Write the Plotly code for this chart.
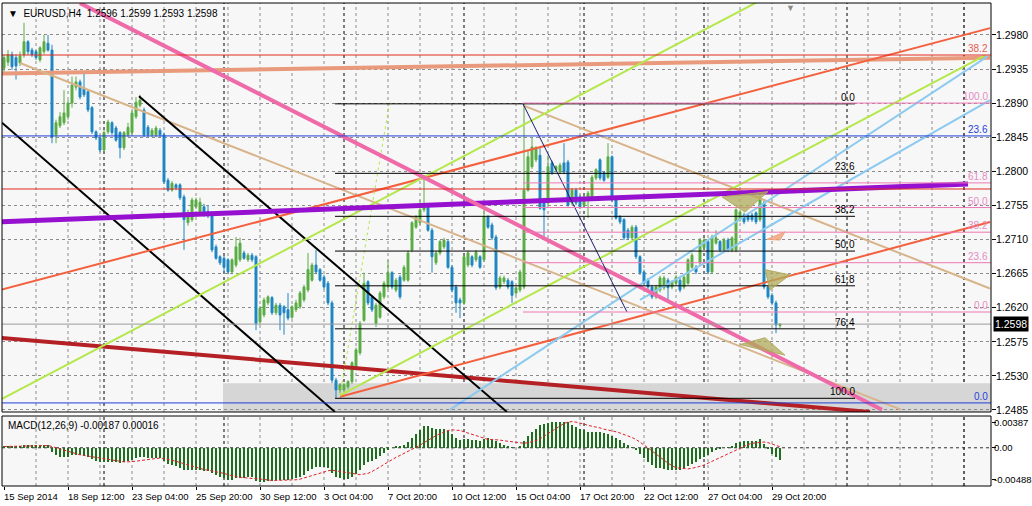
import plotly.graph_objects as go

# ---------------- data (EURUSD H4) ----------------
opens = [
    1.2936, 1.2944, 1.2954, 1.2950, 1.2943, 1.2954, 1.2971, 1.2960, 1.2958, 1.2947,
    1.2958, 1.2969, 1.2960, 1.2848, 1.2860, 1.2864, 1.2872, 1.2890, 1.2911, 1.2918,
    1.2910, 1.2905, 1.2884, 1.2852, 1.2844, 1.2828, 1.2852, 1.2864, 1.2857, 1.2851,
    1.2831, 1.2848, 1.2851, 1.2872, 1.2887, 1.2881, 1.2858, 1.2848, 1.2848, 1.2854,
    1.2848, 1.2788, 1.2775, 1.2782, 1.2782, 1.2766, 1.2732, 1.2736, 1.2753, 1.2746,
    1.2753, 1.2747, 1.2745, 1.2700, 1.2687, 1.2685, 1.2683, 1.2667, 1.2676, 1.2683,
    1.2692, 1.2683, 1.2689, 1.2687, 1.2601, 1.2610, 1.2626, 1.2633, 1.2613, 1.2623,
    1.2621, 1.2617, 1.2607, 1.2617, 1.2621, 1.2630, 1.2643, 1.2656, 1.2676, 1.2670,
    1.2660, 1.2652, 1.2626, 1.2524, 1.2511, 1.2511, 1.2515, 1.2522, 1.2540, 1.2560,
    1.2603, 1.2654, 1.2634, 1.2599, 1.2607, 1.2634, 1.2647, 1.2666, 1.2643, 1.2660,
    1.2656, 1.2656, 1.2696, 1.2726, 1.2732, 1.2749, 1.2755, 1.2722, 1.2679, 1.2692,
    1.2700, 1.2707, 1.2673, 1.2647, 1.2630, 1.2626, 1.2676, 1.2687, 1.2683, 1.2687,
    1.2683, 1.2740, 1.2729, 1.2713, 1.2647, 1.2654, 1.2656, 1.2654, 1.2639, 1.2643,
    1.2647, 1.2775, 1.2806, 1.2815, 1.2821, 1.2762, 1.2758, 1.2811, 1.2802, 1.2799,
    1.2811, 1.2812, 1.2758, 1.2775, 1.2766, 1.2755, 1.2762, 1.2766, 1.2791, 1.2815,
    1.2798, 1.2792, 1.2819, 1.2762, 1.2740, 1.2736, 1.2722, 1.2712, 1.2726, 1.2687,
    1.2667, 1.2656, 1.2647, 1.2634, 1.2643, 1.2646, 1.2656, 1.2647, 1.2652, 1.2656,
    1.2647, 1.2652, 1.2673, 1.2673, 1.2679, 1.2699, 1.2707, 1.2667, 1.2705, 1.2707,
    1.2696, 1.2709, 1.2696, 1.2696, 1.2736, 1.2742, 1.2742, 1.2742, 1.2745, 1.2736,
    1.2758, 1.2647, 1.2636, 1.2626, 1.2596]
highs = [
    1.2954, 1.2960, 1.2958, 1.2954, 1.2958, 1.2996, 1.2973, 1.2963, 1.2960, 1.2965,
    1.2980, 1.2980, 1.2967, 1.2868, 1.2878, 1.2907, 1.2894, 1.2925, 1.2925, 1.2921,
    1.2930, 1.2907, 1.2886, 1.2854, 1.2847, 1.2854, 1.2868, 1.2866, 1.2860, 1.2853,
    1.2853, 1.2864, 1.2880, 1.2898, 1.2901, 1.2884, 1.2861, 1.2857, 1.2860, 1.2857,
    1.2851, 1.2791, 1.2787, 1.2784, 1.2784, 1.2769, 1.2749, 1.2765, 1.2765, 1.2765,
    1.2757, 1.2754, 1.2747, 1.2703, 1.2689, 1.2688, 1.2685, 1.2685, 1.2713, 1.2712,
    1.2695, 1.2692, 1.2692, 1.2689, 1.2622, 1.2633, 1.2636, 1.2635, 1.2626, 1.2626,
    1.2623, 1.2639, 1.2623, 1.2630, 1.2642, 1.2650, 1.2692, 1.2679, 1.2696, 1.2672,
    1.2663, 1.2655, 1.2629, 1.2527, 1.2520, 1.2520, 1.2524, 1.2549, 1.2567, 1.2602,
    1.2666, 1.2656, 1.2636, 1.2626, 1.2642, 1.2655, 1.2683, 1.2668, 1.2659, 1.2663,
    1.2676, 1.2695, 1.2734, 1.2742, 1.2762, 1.2795, 1.2758, 1.2725, 1.2695, 1.2709,
    1.2712, 1.2709, 1.2676, 1.2650, 1.2633, 1.2689, 1.2695, 1.2689, 1.2696, 1.2689,
    1.2749, 1.2742, 1.2732, 1.2716, 1.2662, 1.2662, 1.2659, 1.2656, 1.2648, 1.2670,
    1.2889, 1.2828, 1.2844, 1.2833, 1.2831, 1.2765, 1.2821, 1.2814, 1.2808, 1.2811,
    1.2837, 1.2815, 1.2778, 1.2778, 1.2769, 1.2769, 1.2774, 1.2795, 1.2804, 1.2817,
    1.2800, 1.2837, 1.2821, 1.2765, 1.2742, 1.2738, 1.2725, 1.2729, 1.2729, 1.2689,
    1.2670, 1.2659, 1.2650, 1.2650, 1.2662, 1.2662, 1.2659, 1.2656, 1.2663, 1.2659,
    1.2663, 1.2685, 1.2692, 1.2676, 1.2712, 1.2712, 1.2709, 1.2716, 1.2722, 1.2709,
    1.2712, 1.2712, 1.2714, 1.2751, 1.2749, 1.2745, 1.2745, 1.2745, 1.2747, 1.2775,
    1.2761, 1.2650, 1.2639, 1.2629, 1.2599]
lows = [
    1.2931, 1.2939, 1.2934, 1.2921, 1.2939, 1.2950, 1.2954, 1.2951, 1.2947, 1.2944,
    1.2955, 1.2958, 1.2837, 1.2837, 1.2857, 1.2861, 1.2868, 1.2884, 1.2907, 1.2895,
    1.2898, 1.2878, 1.2849, 1.2841, 1.2825, 1.2825, 1.2849, 1.2848, 1.2839, 1.2817,
    1.2828, 1.2845, 1.2848, 1.2869, 1.2884, 1.2845, 1.2845, 1.2845, 1.2845, 1.2845,
    1.2783, 1.2773, 1.2773, 1.2775, 1.2762, 1.2696, 1.2728, 1.2733, 1.2750, 1.2743,
    1.2740, 1.2738, 1.2693, 1.2683, 1.2676, 1.2666, 1.2664, 1.2664, 1.2673, 1.2680,
    1.2683, 1.2680, 1.2680, 1.2590, 1.2598, 1.2607, 1.2623, 1.2610, 1.2610, 1.2590,
    1.2584, 1.2603, 1.2605, 1.2614, 1.2618, 1.2627, 1.2640, 1.2654, 1.2664, 1.2654,
    1.2644, 1.2623, 1.2520, 1.2500, 1.2507, 1.2508, 1.2512, 1.2519, 1.2537, 1.2557,
    1.2601, 1.2623, 1.2614, 1.2594, 1.2605, 1.2631, 1.2644, 1.2644, 1.2640, 1.2631,
    1.2654, 1.2654, 1.2693, 1.2724, 1.2729, 1.2746, 1.2720, 1.2666, 1.2676, 1.2689,
    1.2697, 1.2671, 1.2640, 1.2613, 1.2606, 1.2623, 1.2673, 1.2673, 1.2680, 1.2671,
    1.2680, 1.2724, 1.2709, 1.2643, 1.2644, 1.2651, 1.2644, 1.2626, 1.2636, 1.2640,
    1.2644, 1.2773, 1.2803, 1.2812, 1.2749, 1.2709, 1.2755, 1.2795, 1.2799, 1.2796,
    1.2796, 1.2753, 1.2755, 1.2755, 1.2750, 1.2753, 1.2738, 1.2763, 1.2788, 1.2788,
    1.2786, 1.2790, 1.2759, 1.2736, 1.2730, 1.2709, 1.2709, 1.2709, 1.2684, 1.2663,
    1.2650, 1.2644, 1.2631, 1.2631, 1.2640, 1.2643, 1.2630, 1.2644, 1.2650, 1.2640,
    1.2644, 1.2650, 1.2671, 1.2664, 1.2676, 1.2696, 1.2664, 1.2664, 1.2703, 1.2693,
    1.2693, 1.2693, 1.2693, 1.2693, 1.2733, 1.2730, 1.2733, 1.2733, 1.2730, 1.2733,
    1.2644, 1.2631, 1.2623, 1.2586, 1.2593]
closes = [
    1.2950, 1.2954, 1.2938, 1.2939, 1.2952, 1.2971, 1.2958, 1.2954, 1.2950, 1.2963,
    1.2971, 1.2960, 1.2845, 1.2864, 1.2872, 1.2877, 1.2890, 1.2914, 1.2918, 1.2898,
    1.2901, 1.2881, 1.2852, 1.2844, 1.2828, 1.2851, 1.2865, 1.2851, 1.2841, 1.2831,
    1.2851, 1.2858, 1.2877, 1.2891, 1.2894, 1.2848, 1.2848, 1.2854, 1.2857, 1.2848,
    1.2786, 1.2775, 1.2784, 1.2778, 1.2765, 1.2736, 1.2745, 1.2762, 1.2762, 1.2759,
    1.2742, 1.2741, 1.2696, 1.2685, 1.2679, 1.2673, 1.2667, 1.2683, 1.2700, 1.2705,
    1.2685, 1.2689, 1.2683, 1.2599, 1.2619, 1.2630, 1.2634, 1.2613, 1.2623, 1.2610,
    1.2613, 1.2606, 1.2621, 1.2626, 1.2639, 1.2647, 1.2670, 1.2676, 1.2667, 1.2656,
    1.2647, 1.2626, 1.2524, 1.2511, 1.2518, 1.2518, 1.2522, 1.2547, 1.2564, 1.2599,
    1.2652, 1.2626, 1.2617, 1.2623, 1.2639, 1.2652, 1.2666, 1.2647, 1.2656, 1.2634,
    1.2673, 1.2692, 1.2732, 1.2740, 1.2749, 1.2753, 1.2722, 1.2687, 1.2692, 1.2707,
    1.2709, 1.2673, 1.2643, 1.2626, 1.2626, 1.2687, 1.2692, 1.2676, 1.2693, 1.2673,
    1.2740, 1.2726, 1.2712, 1.2646, 1.2659, 1.2659, 1.2647, 1.2636, 1.2646, 1.2667,
    1.2775, 1.2819, 1.2832, 1.2831, 1.2751, 1.2749, 1.2806, 1.2798, 1.2806, 1.2808,
    1.2799, 1.2755, 1.2775, 1.2758, 1.2753, 1.2766, 1.2771, 1.2792, 1.2802, 1.2791,
    1.2788, 1.2819, 1.2762, 1.2738, 1.2733, 1.2712, 1.2712, 1.2726, 1.2687, 1.2666,
    1.2652, 1.2647, 1.2634, 1.2647, 1.2659, 1.2659, 1.2646, 1.2654, 1.2660, 1.2643,
    1.2660, 1.2683, 1.2689, 1.2667, 1.2709, 1.2709, 1.2667, 1.2713, 1.2712, 1.2696,
    1.2709, 1.2696, 1.2712, 1.2749, 1.2746, 1.2733, 1.2736, 1.2736, 1.2733, 1.2762,
    1.2647, 1.2634, 1.2626, 1.2597, 1.2598]

macd_main = [
    0.00030, 0.00032, 0.00030, 0.00028, 0.00030, 0.00040, 0.00042, 0.00040, 0.00036, 0.00036,
    0.00042, 0.00040, -0.00060, -0.00120, -0.00140, -0.00150, -0.00140, -0.00120, -0.00110, -0.00120,
    -0.00130, -0.00150, -0.00180, -0.00200, -0.00230, -0.00230, -0.00220, -0.00220, -0.00230, -0.00240,
    -0.00230, -0.00210, -0.00190, -0.00160, -0.00140, -0.00150, -0.00160, -0.00160, -0.00160, -0.00160,
    -0.00210, -0.00250, -0.00270, -0.00290, -0.00310, -0.00340, -0.00350, -0.00350, -0.00350, -0.00350,
    -0.00360, -0.00360, -0.00400, -0.00430, -0.00460, -0.00480, -0.00500, -0.00500, -0.00480, -0.00470,
    -0.00470, -0.00460, -0.00460, -0.00520, -0.00530, -0.00530, -0.00520, -0.00520, -0.00510, -0.00510,
    -0.00510, -0.00500, -0.00490, -0.00470, -0.00450, -0.00420, -0.00370, -0.00330, -0.00300, -0.00300,
    -0.00300, -0.00320, -0.00400, -0.00460, -0.00480, -0.00490, -0.00490, -0.00460, -0.00410, -0.00350,
    -0.00270, -0.00230, -0.00200, -0.00170, -0.00130, -0.00080, -0.00030, 0.00000, 0.00020, 0.00030,
    0.00050, 0.00090, 0.00160, 0.00220, 0.00280, 0.00340, 0.00340, 0.00310, 0.00300, 0.00300,
    0.00290, 0.00260, 0.00220, 0.00160, 0.00120, 0.00130, 0.00130, 0.00120, 0.00120, 0.00110,
    0.00140, 0.00150, 0.00140, 0.00100, 0.00070, 0.00050, 0.00030, 0.00010, 0.00000, 0.00020,
    0.00100, 0.00180, 0.00250, 0.00300, 0.00350, 0.00370, 0.00390, 0.00400, 0.00410, 0.00410,
    0.00410, 0.00400, 0.00360, 0.00330, 0.00300, 0.00270, 0.00250, 0.00240, 0.00240, 0.00240,
    0.00230, 0.00220, 0.00190, 0.00150, 0.00120, 0.00080, 0.00040, 0.00010, -0.00040, -0.00100,
    -0.00160, -0.00220, -0.00270, -0.00310, -0.00320, -0.00330, -0.00340, -0.00340, -0.00340, -0.00340,
    -0.00320, -0.00290, -0.00250, -0.00220, -0.00180, -0.00140, -0.00110, -0.00070, -0.00040, -0.00020,
    0.00000, 0.00010, 0.00030, 0.00070, 0.00090, 0.00100, 0.00110, 0.00110, 0.00110, 0.00130,
    0.00060, -0.00020, -0.00090, -0.00140, -0.00187]
macd_signal = [
    0.00020, 0.00021, 0.00022, 0.00023, 0.00024, 0.00026, 0.00028, 0.00030, 0.00031, 0.00032,
    0.00033, 0.00034, 0.00020, 0.00000, -0.00020, -0.00040, -0.00060, -0.00080, -0.00090, -0.00110,
    -0.00120, -0.00130, -0.00140, -0.00150, -0.00160, -0.00180, -0.00190, -0.00200, -0.00210, -0.00220,
    -0.00220, -0.00220, -0.00220, -0.00210, -0.00200, -0.00190, -0.00180, -0.00170, -0.00160, -0.00160,
    -0.00170, -0.00180, -0.00190, -0.00210, -0.00230, -0.00250, -0.00270, -0.00290, -0.00310, -0.00330,
    -0.00340, -0.00350, -0.00360, -0.00370, -0.00390, -0.00400, -0.00420, -0.00440, -0.00450, -0.00460,
    -0.00470, -0.00470, -0.00480, -0.00480, -0.00490, -0.00500, -0.00500, -0.00510, -0.00510, -0.00510,
    -0.00510, -0.00510, -0.00510, -0.00500, -0.00490, -0.00470, -0.00450, -0.00430, -0.00410, -0.00390,
    -0.00370, -0.00360, -0.00350, -0.00360, -0.00370, -0.00380, -0.00400, -0.00410, -0.00420, -0.00420,
    -0.00410, -0.00400, -0.00370, -0.00340, -0.00300, -0.00260, -0.00220, -0.00180, -0.00150, -0.00120,
    -0.00090, -0.00060, -0.00030, 0.00000, 0.00040, 0.00080, 0.00120, 0.00160, 0.00190, 0.00220,
    0.00250, 0.00270, 0.00280, 0.00280, 0.00270, 0.00250, 0.00230, 0.00210, 0.00190, 0.00160,
    0.00140, 0.00130, 0.00130, 0.00130, 0.00120, 0.00110, 0.00100, 0.00090, 0.00080, 0.00070,
    0.00070, 0.00080, 0.00090, 0.00110, 0.00140, 0.00180, 0.00220, 0.00260, 0.00300, 0.00340,
    0.00380, 0.00400, 0.00410, 0.00400, 0.00390, 0.00370, 0.00350, 0.00340, 0.00320, 0.00310,
    0.00290, 0.00280, 0.00260, 0.00250, 0.00230, 0.00210, 0.00190, 0.00160, 0.00130, 0.00090,
    0.00050, 0.00000, -0.00050, -0.00100, -0.00150, -0.00200, -0.00240, -0.00280, -0.00310, -0.00320,
    -0.00330, -0.00330, -0.00320, -0.00310, -0.00290, -0.00270, -0.00240, -0.00210, -0.00180, -0.00150,
    -0.00120, -0.00090, -0.00060, -0.00030, 0.00000, 0.00030, 0.00050, 0.00070, 0.00080, 0.00090,
    0.00090, 0.00080, 0.00060, 0.00040, 0.00016]

time_label_bars = [0, 16, 32, 48, 64, 80, 96, 112, 128, 144, 160, 176, 192]
time_labels = ["15 Sep 2014", "18 Sep 12:00", "23 Sep 04:00", "25 Sep 20:00", "30 Sep 12:00",
               "3 Oct 04:00", "7 Oct 20:00", "10 Oct 12:00", "15 Oct 04:00", "17 Oct 20:00",
               "22 Oct 12:00", "27 Oct 04:00", "29 Oct 20:00"]
price_ticks = [1.2485, 1.2530, 1.2575, 1.2620, 1.2665, 1.2710, 1.2755, 1.2800, 1.2845, 1.2890, 1.2935, 1.2980]
macd_tick_vals = [0.00387, 0.0, -0.00488]
macd_tick_text = ["0.00387", "0.00", "-0.00488"]
week_separator_bars = [25, 55, 85, 115, 145, 175, 210.75, 240]
last_price = 1.2598
title_text = "EURUSD,H4  1.2596 1.2599 1.2593 1.2598"
macd_text = "MACD(12,26,9) -0.00187 0.00016"

# drawn objects: (bar0, price0, bar1, price1)
trend_lines = {
    "salmon": (-1.0, 1.2929, 246.5, 1.2950),
    "tan_1": (4.0, 1.2943, 224.25, 1.2485),
    "tan_2": (129.75, 1.2887, 246.5, 1.2645),
    "darkred": (-1.0, 1.2580, 216.5, 1.2482),
    "black_a": (-0.5, 1.2864, 82.75, 1.2482),
    "black_b": (33.75, 1.2899, 125.75, 1.2482),
    "tomato_1": (-1.0, 1.2643, 246.5, 1.2989),
    "tomato_2": (84.0, 1.2502, 246.5, 1.2733),
    "green_1": (-1.0, 1.2498, 188.5, 1.3024),
    "green_2": (84.0, 1.2504, 245.25, 1.2953),
    "green_dot": (84.0, 1.2504, 96.5, 1.2894),
    "lightblue_1": (111.5, 1.2485, 246.0, 1.2952),
    "lightblue_2": (159.0, 1.2630, 246.5, 1.2894),
    "purple": (-1.0, 1.2733, 241.0, 1.2783),
    "pink": (19.0, 1.3022, 219.5, 1.2485),
    "navy": (129.75, 1.2889, 155.75, 1.2614),
}
full_width_levels = {"red_top": 1.29535, "red_mid": 1.27765, "blue_top": 1.28466, "blue_low": 1.24939}
fib_a_levels = [0.0, 23.6, 38.2, 50.0, 61.8, 76.4, 100.0]
fib_a_zero, fib_a_hundred = 1.2889, 1.2500
fib_a_span = (82.75, 212.75)
fib_b_levels = [0.0, 23.6, 38.2, 50.0, 61.8, 100.0]
fib_b_zero, fib_b_hundred = 1.2614, 1.2890
fib_b_span = (129.75, 246.75)
triangles = [
    [(179.5, 1.2766), (191.0, 1.2773), (185.25, 1.2746)],
    [(190.25, 1.2670), (196.5, 1.2663), (191.5, 1.2643)],
    [(184.0, 1.2571), (190.25, 1.2580), (195.25, 1.2557)],
]
small_triangle = [(190.75, 1.2710), (195.25, 1.2720), (194.0, 1.2709)]
zone = (54.75, 246.75, 1.2482, 1.2520)

# ---------------- styles ----------------
line_styles = {
    "salmon": ("#ea9a7c", 4, "solid"),
    "tan_1": ("#d8b48a", 2, "solid"),
    "tan_2": ("#d8b48a", 2, "solid"),
    "darkred": ("#b52025", 4, "solid"),
    "black_a": ("#000000", 2, "solid"),
    "black_b": ("#000000", 2, "solid"),
    "tomato_1": ("#f4603e", 2, "solid"),
    "tomato_2": ("#f4603e", 2, "solid"),
    "green_1": ("#b4e84a", 2, "solid"),
    "green_2": ("#b4e84a", 2, "solid"),
    "green_dot": ("#b4e84a", 1, "dot"),
    "lightblue_1": ("#8ccaf0", 2, "solid"),
    "lightblue_2": ("#8ccaf0", 2, "solid"),
    "purple": ("#9610d0", 5, "solid"),
    "pink": ("#ee6aa8", 4, "solid"),
    "navy": ("#1a1a70", 1, "solid"),
}
level_styles = {"red_top": "#e02a20", "red_mid": "#e02a20", "blue_top": "#1f3fd8", "blue_low": "#1f3fd8"}
FONT = "Liberation Sans, Arial, sans-serif"
X_RANGE = [-0.5, 246.75]
Y_RANGE = [1.24819, 1.30222]
M_RANGE = [-0.00597, 0.00496]

fig = go.Figure()

for name, (b0, p0, b1, p1) in trend_lines.items():
    col, w, dash = line_styles[name]
    fig.add_trace(go.Scatter(x=[b0, b1], y=[p0, p1], mode="lines", xaxis="x", yaxis="y",
                             line=dict(color=col, width=w, dash=dash), hoverinfo="skip", showlegend=False))

for name, lvl in full_width_levels.items():
    fig.add_trace(go.Scatter(x=X_RANGE, y=[lvl, lvl], mode="lines", line=dict(color=level_styles[name], width=1),
                             hoverinfo="skip", showlegend=False))
fig.add_trace(go.Scatter(x=X_RANGE, y=[last_price, last_price], mode="lines", line=dict(color="#9a9a9a", width=1),
                         hoverinfo="skip", showlegend=False))

for lv in fib_a_levels:
    p = fib_a_zero + (fib_a_hundred - fib_a_zero) * lv / 100.0
    fig.add_trace(go.Scatter(x=list(fib_a_span), y=[p, p], mode="lines", line=dict(color="#000000", width=1),
                             hoverinfo="skip", showlegend=False))
    fig.add_annotation(x=fib_a_span[1], y=p, text=f"{lv:.1f}", showarrow=False, xanchor="right", yanchor="bottom",
                       xshift=2, yshift=-1, font=dict(family=FONT, size=10, color="#000000"))
for lv in fib_b_levels:
    p = fib_b_zero + (fib_b_hundred - fib_b_zero) * lv / 100.0
    fig.add_trace(go.Scatter(x=list(fib_b_span), y=[p, p], mode="lines", line=dict(color="#ee78b4", width=1),
                             hoverinfo="skip", showlegend=False))
    fig.add_annotation(x=fib_b_span[1], y=p, text=f"{lv:.1f}", showarrow=False, xanchor="right", yanchor="bottom",
                       xshift=-1, yshift=-1, font=dict(family=FONT, size=10, color="#e58cc4"))

fig.add_annotation(x=X_RANGE[1], y=full_width_levels["red_top"], text="38.2", showarrow=False, xanchor="right",
                   yanchor="bottom", xshift=-1, yshift=-1, font=dict(family=FONT, size=10, color="#e85a50"))
fig.add_annotation(x=X_RANGE[1], y=full_width_levels["blue_top"], text="23.6", showarrow=False, xanchor="right",
                   yanchor="bottom", xshift=-1, yshift=-1, font=dict(family=FONT, size=10, color="#1f3fd8"))
fig.add_annotation(x=X_RANGE[1], y=full_width_levels["blue_low"], text="0.0", showarrow=False, xanchor="right",
                   yanchor="bottom", xshift=-1, yshift=-1, font=dict(family=FONT, size=10, color="#1f3fd8"))

for tri in triangles:
    xs = [pt[0] for pt in tri] + [tri[0][0]]
    ys = [pt[1] for pt in tri] + [tri[0][1]]
    fig.add_trace(go.Scatter(x=xs, y=ys, mode="lines", fill="toself", fillcolor="rgba(176,170,90,0.75)",
                             line=dict(color="rgba(176,170,90,0.9)", width=1), hoverinfo="skip", showlegend=False))
fig.add_trace(go.Scatter(x=[pt[0] for pt in small_triangle] + [small_triangle[0][0]],
                         y=[pt[1] for pt in small_triangle] + [small_triangle[0][1]],
                         mode="lines", fill="toself", fillcolor="rgba(240,160,120,0.8)",
                         line=dict(color="rgba(240,160,120,0.9)", width=1), hoverinfo="skip", showlegend=False))

bar_index = list(range(len(opens)))
fig.add_trace(go.Candlestick(x=bar_index, open=opens, high=highs, low=lows, close=closes,
                             increasing=dict(line=dict(color="#5aac44", width=1), fillcolor="#5aac44"),
                             decreasing=dict(line=dict(color="#1e86c2", width=1), fillcolor="#1e86c2"),
                             whiskerwidth=0, hoverinfo="skip", showlegend=False, xaxis="x", yaxis="y"))

fig.add_trace(go.Bar(x=bar_index, y=macd_main, width=0.3, marker=dict(color="#1d6e1d", line=dict(width=0)),
                     xaxis="x", yaxis="y2", hoverinfo="skip", showlegend=False))
fig.add_trace(go.Scatter(x=bar_index, y=macd_signal, mode="lines", line=dict(color="#e0202a", width=1, dash="3px,2px"),
                         xaxis="x", yaxis="y2", hoverinfo="skip", showlegend=False))

# ---- furniture (shapes) ----
fig.add_shape(type="rect", xref="x", yref="y", x0=zone[0], x1=zone[1], y0=zone[2], y1=zone[3],
              fillcolor="#d6d6d6", line=dict(width=0), layer="below")
for b in range(8, 247, 8):
    for yr in ("y domain", "y2 domain"):
        fig.add_shape(type="line", xref="x", yref=yr, x0=b, x1=b, y0=0, y1=1,
                      line=dict(color="#8c8c8c", width=1, dash="3px,3px"), layer="below")
for b in week_separator_bars:
    for yr in ("y domain", "y2 domain"):
        fig.add_shape(type="line", xref="x", yref=yr, x0=b, x1=b, y0=0, y1=1,
                      line=dict(color="#000000", width=1, dash="3px,3px"), layer="below")
fig.add_shape(type="line", xref="x domain", yref="y2", x0=0, x1=1, y0=0, y1=0,
              line=dict(color="#333333", width=1, dash="3px,3px"), layer="below")
for yr in ("y domain", "y2 domain"):
    fig.add_shape(type="rect", xref="x domain", yref=yr, x0=0, x1=1, y0=0, y1=1,
                  line=dict(color="#000000", width=1), fillcolor="rgba(0,0,0,0)", layer="above")

# ---- texts ----
for b, t in zip(time_label_bars, time_labels):
    fig.add_annotation(x=b, y=0, xref="x", yref="paper", text=t, showarrow=False, xanchor="left",
                       yanchor="top", xshift=-2, yshift=-3, font=dict(family=FONT, size=9.5, color="#000000"))
for v in price_ticks:
    fig.add_annotation(x=1, y=v, xref="paper", yref="y", text=f"{v:.4f}", showarrow=False, xanchor="left",
                       xshift=3, font=dict(family=FONT, size=10.5, color="#000000"))
for v, t in zip(macd_tick_vals, macd_tick_text):
    fig.add_annotation(x=1, y=v, xref="paper", yref="y2", text=t, showarrow=False, xanchor="left",
                       xshift=1, font=dict(family=FONT, size=9.5, color="#000000"))
fig.add_annotation(x=1, y=last_price, xref="paper", yref="y", text=f"{last_price:.4f}",
                   showarrow=False, xanchor="left", xshift=2, bgcolor="#000000",
                   font=dict(family=FONT, size=10.5, color="#ffffff"), borderpad=1)
fig.add_annotation(x=0, y=1, xref="paper", yref="paper", text="\u25bc  " + title_text, showarrow=False,
                   xanchor="left", yanchor="top", xshift=4, yshift=-3,
                   font=dict(family=FONT, size=10, color="#000000"))
fig.add_annotation(x=0, y=1, xref="paper", yref="y2 domain", text=macd_text, showarrow=False,
                   xanchor="left", yanchor="top", xshift=4, yshift=-2,
                   font=dict(family=FONT, size=10, color="#000000"))
fig.add_annotation(x=196.5, y=1, xref="x", yref="paper", text="\u25bc", showarrow=False,
                   xanchor="center", yanchor="top", yshift=2, font=dict(family=FONT, size=9, color="#8a8a8a"))

fig.update_layout(
    width=1032, height=506,
    margin=dict(l=2, r=41, t=3, b=20),
    paper_bgcolor="#ffffff", plot_bgcolor="#f7f7f7",
    showlegend=False, bargap=0,
    xaxis=dict(range=X_RANGE, anchor="y2", showgrid=False, zeroline=False, showticklabels=False,
               tickmode="array", tickvals=time_label_bars, ticks="outside", ticklen=3, tickcolor="#000000",
               rangeslider=dict(visible=False), fixedrange=True),
    yaxis=dict(domain=[0.1532, 1.0], range=Y_RANGE, side="right", anchor="x", tickmode="array",
               tickvals=price_ticks, showticklabels=False, ticks="outside", ticklen=4,
               tickcolor="#000000", showgrid=True, gridcolor="#8c8c8c", griddash="3px,3px", gridwidth=1,
               zeroline=False),
    yaxis2=dict(domain=[0.0, 0.1449], range=M_RANGE, side="right", anchor="x", tickmode="array",
                tickvals=macd_tick_vals, showticklabels=False, ticks="outside", ticklen=4,
                tickcolor="#000000", showgrid=False, zeroline=False),
)

fig.write_html("out.html", config={"displayModeBar": False},
               post_script="document.body.style.margin='0px';document.body.style.overflow='hidden';")
